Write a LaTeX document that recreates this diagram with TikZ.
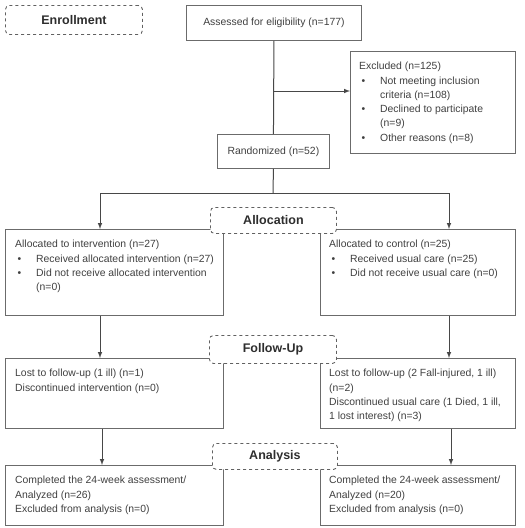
\documentclass[tikz,border=0pt]{standalone}
\usepackage{fontspec}
\setmainfont{Liberation Sans}
\usepackage{tikz}
\usetikzlibrary{arrows}
\tikzstyle{arrow} = [line width=1pt,->,>=latex,draw=black!72]
\tikzstyle{line} = [line width=1pt,draw=black!72]
\tikzstyle{box} = [draw=black!58,line width=0.9pt,rectangle,inner sep=0pt,anchor=north west,text=black!75,font=\fontsize{10.4}{14.3}\selectfont]
\tikzstyle{txt} = [align=left,anchor=north west,inner sep=0pt,text=black!75,font=\fontsize{10.4}{14.3}\selectfont]
\tikzstyle{phase} = [draw=black!62,dashed,line width=0.9pt,rounded corners=4pt,fill=white,anchor=north west,inner sep=0pt,text=black!82,font=\fontsize{12.5}{15}\selectfont\bfseries]
\newcommand{\bul}{\makebox[21pt][l]{\hspace{2.5pt}\textbullet}}
\newcommand{\ind}{\hspace*{21pt}}

\begin{document}
\begin{tikzpicture}[x=1pt,y=-1pt]
	\useasboundingbox[fill=white] (0,0) rectangle (525,528);
	\node[box, minimum width=175pt, minimum height=35pt] (assess) at (186,5) {Assessed for eligibility (n=177)};
	\node[box, minimum width=165pt, minimum height=102pt] (excl) at (350,51) {};
	\node[box, minimum width=112pt, minimum height=34pt] (rand) at (217,134) {Randomized (n=52)};
	\node[box, minimum width=218pt, minimum height=86pt] (allocL) at (5,229) {};
	\node[box, minimum width=195pt, minimum height=86pt] (allocR) at (320,229) {};
	\node[box, minimum width=218pt, minimum height=70pt] (followL) at (5,358) {};
	\node[box, minimum width=195pt, minimum height=70pt] (followR) at (320,358) {};
	\node[box, minimum width=218pt, minimum height=60pt] (anaL) at (5,465) {};
	\node[box, minimum width=195pt, minimum height=60pt] (anaR) at (320,465) {};

	\node[txt] (excltxt) at ([shift={(9,11)}]excl.north west) {Excluded (n=125)\\
		\bul Not meeting inclusion\\
		\ind criteria (n=108)\\
		\bul Declined to participate\\
		\ind (n=9)\\
		\bul Other reasons (n=8)};
	\node[txt] (allocLtxt) at ([shift={(10,11)}]allocL.north west) {Allocated to intervention (n=27)\\
		\bul Received allocated intervention (n=27)\\
		\bul Did not receive allocated intervention\\
		\ind (n=0)};
	\node[txt] (allocRtxt) at ([shift={(9,11)}]allocR.north west) {Allocated to control (n=25)\\
		\bul Received usual care (n=25)\\
		\bul Did not receive usual care (n=0)};
	\node[txt] (followLtxt) at ([shift={(10,11)}]followL.north west) {Lost to follow-up (1 ill) (n=1)\\
		Discontinued intervention (n=0)};
	\node[txt] (followRtxt) at ([shift={(9,11)}]followR.north west) {Lost to follow-up (2 Fall-injured, 1 ill)\\
		(n=2)\\
		Discontinued usual care (1 Died, 1 ill,\\
		1 lost interest) (n=3)};
	\node[txt] (anaLtxt) at ([shift={(10,11)}]anaL.north west) {Completed the 24-week assessment/\\
		Analyzed (n=26)\\
		Excluded from analysis (n=0)};
	\node[txt] (anaRtxt) at ([shift={(9,11)}]anaR.north west) {Completed the 24-week assessment/\\
		Analyzed (n=20)\\
		Excluded from analysis (n=0)};

	\coordinate (branch) at (273,91);
	\coordinate (split) at (273,193);
	\coordinate (colL) at (100,0);
	\coordinate (colR) at (449,0);
	\draw[line] (assess.south) -- (rand.north);
	\draw[arrow] (branch) -- (branch -| excl.west);
	\draw[line] (rand.south) -- (split);
	\draw[arrow] (split) -| (allocL.north -| colL);
	\draw[arrow] (split) -| (allocR.north -| colR);
	\draw[arrow] (allocL.south -| colL) -- (followL.north -| colL);
	\draw[arrow] (allocR.south -| colR) -- (followR.north -| colR);
	\draw[arrow] ([xshift=2pt]followL.south -| colL) -- ([xshift=2pt]anaL.north -| colL);
	\draw[arrow] ([xshift=2pt]followR.south -| colR) -- ([xshift=2pt]anaR.north -| colR);

	\node[phase, minimum width=137pt, minimum height=29pt] (enroll) at (5,5) {Enrollment};
	\node[phase, minimum width=126pt, minimum height=26pt] (alloc) at (210,207) {Allocation};
	\node[phase, minimum width=127pt, minimum height=28pt] (follow) at (209,335) {Follow-Up};
	\node[phase, minimum width=125pt, minimum height=26pt] (analysis) at (212,443) {Analysis};
\end{tikzpicture}
\end{document}
